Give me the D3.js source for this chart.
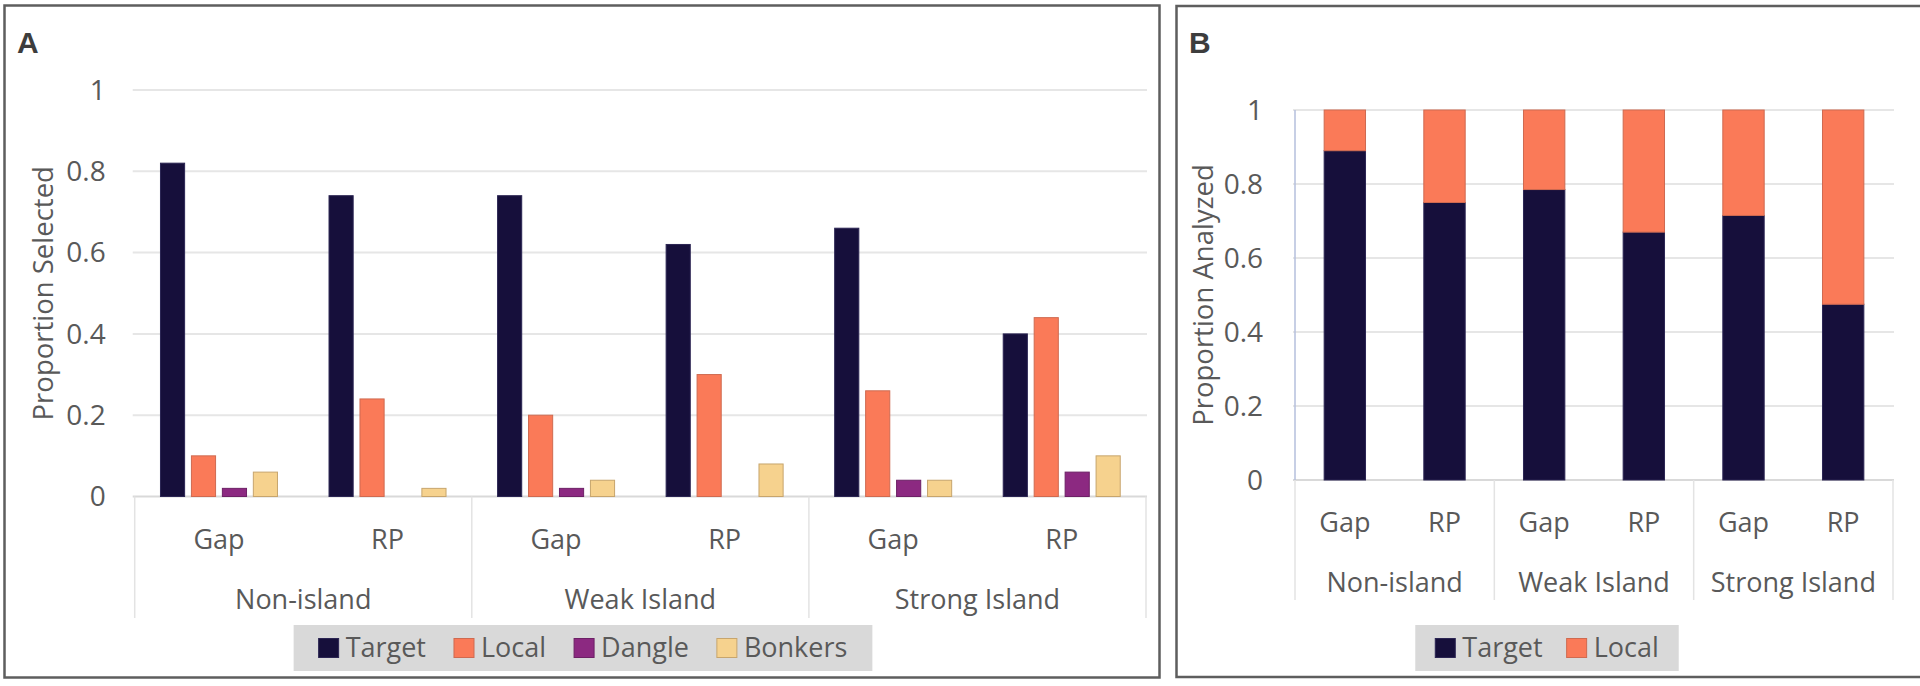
<!DOCTYPE html>
<html>
<head>
<meta charset="utf-8">
<script src="https://cdn.jsdelivr.net/npm/d3@7/dist/d3.min.js"></script>
<style>
  body { margin: 0; background: #fff; }
  svg { display: block; }
  text { font-family: "Open Sans", sans-serif; fill: #595959; }
</style>
</head>
<body>
<div id="chart"></div>
<script>
// categories
const groups = ["Non-island", "Weak Island", "Strong Island"]
const conds = ["Gap", "RP"]
const seriesA = ["Target", "Local", "Dangle", "Bonkers"]
const seriesB = ["Target", "Local"]
const yTicks = [0, 0.2, 0.4, 0.6, 0.8, 1]
const yTickLabels = ["0", "0.2", "0.4", "0.6", "0.8", "1"]

// panel A: proportion selected (order: Non-island Gap, RP, Weak Gap, RP, Strong Gap, RP)
const targetA = [0.82, 0.74, 0.74, 0.62, 0.66, 0.40]
const localA = [0.10, 0.24, 0.20, 0.30, 0.26, 0.44]
const dangleA = [0.02, 0.00, 0.02, 0.00, 0.04, 0.06]
const bonkersA = [0.06, 0.02, 0.04, 0.08, 0.04, 0.10]

// panel B: proportion analyzed (stacked)
const targetB = [0.89, 0.75, 0.785, 0.67, 0.715, 0.475]
const localB = [0.11, 0.25, 0.215, 0.33, 0.285, 0.525]

const fill = { Target: "#160f3b", Local: "#fa7a58", Dangle: "#8c2981", Bonkers: "#f6d28e" }
const edge = { Target: "#2b2553", Local: "#cf6a50", Dangle: "#6d2166", Bonkers: "#c7a56d" }

const svg = d3.select("#chart")
  .append("svg")
    .attr("width", 1920)
    .attr("height", 686)

const cells = groups.flatMap(g => conds.map(c => ({ g, c })))

// frames
svg.append("rect")
  .attr("x", 4.5).attr("y", 5.5).attr("width", 1155).attr("height", 672)
  .attr("fill", "none").attr("stroke", "#5e5e5e").attr("stroke-width", 2.5)
svg.append("rect")
  .attr("x", 1176.5).attr("y", 6).attr("width", 1738).attr("height", 671)
  .attr("fill", "none").attr("stroke", "#5e5e5e").attr("stroke-width", 2.5)

function panel(p) {
  const g = svg.append("g")
  const xg = d3.scaleBand().domain(groups).range([p.left, p.right])
  const xs = d3.scaleBand().domain(conds).range([0, xg.bandwidth()])
  const y = d3.scaleLinear().domain([0, 1]).range([p.bottom, p.top])

  // letter
  g.append("text")
    .attr("x", p.letterX).attr("y", 53)
    .style("font-family", "Liberation Sans, Arial, sans-serif")
    .style("font-weight", "bold").style("font-size", "30px").style("fill", "#3d3d3d")
    .text(p.letter)

  // gridlines
  g.append("g").selectAll("line")
    .data(yTicks)
    .join("line")
      .attr("x1", p.left - 2).attr("x2", p.right + 1)
      .attr("y1", d => y(d)).attr("y2", d => y(d))
      .attr("stroke", d => d === 0 ? "#d9d9d9" : "#e6e6e6")
      .attr("stroke-width", 2)

  if (p.axisLine) {
    g.append("line")
      .attr("x1", p.left).attr("x2", p.left)
      .attr("y1", y(1)).attr("y2", y(0))
      .attr("stroke", "#b4bfdc").attr("stroke-width", 1.5)
  }

  // y tick labels
  g.append("g").selectAll("text")
    .data(yTicks)
    .join("text")
      .attr("x", p.left - p.tickPad)
      .attr("y", d => y(d))
      .attr("dy", "0.35em")
      .attr("text-anchor", "end")
      .style("font-size", "28px")
      .text((d, i) => yTickLabels[i])

  // y title
  g.append("text")
    .attr("transform", `translate(${p.titleX},${(y(0) + y(1)) / 2}) rotate(-90)`)
    .attr("text-anchor", "middle")
    .attr("dy", "0.35em")
    .style("font-size", "27.5px")
    .text(p.yTitle)

  // category separators
  const seps = groups.map(d => xg(d)).concat([p.right])
  g.append("g").selectAll("line")
    .data(seps)
    .join("line")
      .attr("x1", d => d).attr("x2", d => d)
      .attr("y1", y(0)).attr("y2", p.sepBottom)
      .attr("stroke", "#e3e3e3").attr("stroke-width", 1.5)

  // category labels
  g.append("g").selectAll("text")
    .data(cells)
    .join("text")
      .attr("x", d => xg(d.g) + xs(d.c) + xs.bandwidth() / 2)
      .attr("y", p.condY)
      .attr("dy", "0.35em")
      .attr("text-anchor", "middle")
      .style("font-size", "27px")
      .text(d => d.c)
  g.append("g").selectAll("text")
    .data(groups)
    .join("text")
      .attr("x", d => xg(d) + xg.bandwidth() / 2)
      .attr("y", p.groupY)
      .attr("dy", "0.35em")
      .attr("text-anchor", "middle")
      .style("font-size", "27px")
      .text(d => d)

  // legend
  const lg = g.append("g")
  const box = lg.append("rect").attr("fill", "#d9d9d9")
  let cx = 0
  p.series.forEach(s => {
    lg.append("rect")
      .attr("x", cx).attr("y", 648 - 9.5).attr("width", 20).attr("height", 19)
      .attr("fill", fill[s]).attr("stroke", edge[s]).attr("stroke-width", 1)
    const t = lg.append("text")
      .attr("x", cx + 27).attr("y", 648).attr("dy", "0.35em")
      .style("font-size", "27px")
      .text(s)
    cx += 27 + t.node().getComputedTextLength() + p.legendGap
  })
  const contentW = cx - p.legendGap
  const bx = p.legendCenter - contentW / 2
  lg.selectAll("rect:not(:first-child), text").attr("transform", `translate(${bx},0)`)
  box.attr("x", bx - p.legendPad).attr("y", 625)
    .attr("width", contentW + 2 * p.legendPad).attr("height", 46)

  return { g, xg, xs, y }
}

// ---- panel A: clustered bars
const A = panel({
  letter: "A", letterX: 17,
  left: 134.7, right: 1146, top: 90, bottom: 496.5,
  tickPad: 29, titleX: 43, yTitle: "Proportion Selected",
  sepBottom: 618, condY: 540, groupY: 600,
  series: seriesA, legendCenter: 583, legendGap: 28, legendPad: 25
})
const valsA = { Target: targetA, Local: localA, Dangle: dangleA, Bonkers: bonkersA }
const clusterW = 117
const xb = d3.scaleBand().domain(seriesA).range([0, clusterW]).paddingInner(0.22)
const rowsA = cells.flatMap((d, i) => seriesA.map(s => ({ ...d, s, v: valsA[s][i] })))
A.g.append("g").selectAll("rect")
  .data(rowsA.filter(d => d.v > 0))
  .join("rect")
    .attr("x", d => A.xg(d.g) + A.xs(d.c) + (A.xs.bandwidth() - clusterW) / 2 + xb(d.s))
    .attr("width", xb.bandwidth())
    .attr("y", d => A.y(d.v))
    .attr("height", d => A.y(0) - A.y(d.v))
    .attr("fill", d => fill[d.s])
    .attr("stroke", d => edge[d.s])
    .attr("stroke-width", 1)

// ---- panel B: stacked bars
const B = panel({
  letter: "B", letterX: 1189,
  left: 1295, right: 1893, top: 110, bottom: 480,
  tickPad: 32, titleX: 1203, yTitle: "Proportion Analyzed", axisLine: true,
  sepBottom: 600, condY: 523, groupY: 583,
  series: seriesB, legendCenter: 1547, legendGap: 24, legendPad: 20
})
const tableB = cells.map((d, i) => ({ key: d.g + "|" + d.c, g: d.g, c: d.c, Target: targetB[i], Local: localB[i] }))
const stackB = d3.stack().keys(seriesB)(tableB)
const barW = B.xs.bandwidth() * 0.415
B.g.append("g").selectAll("g")
  .data(stackB)
  .join("g")
    .attr("fill", d => fill[d.key])
    .attr("stroke", d => edge[d.key])
  .selectAll("rect")
  .data(d => d)
  .join("rect")
    .attr("x", d => B.xg(d.data.g) + B.xs(d.data.c) + (B.xs.bandwidth() - barW) / 2)
    .attr("width", barW)
    .attr("y", d => B.y(d[1]))
    .attr("height", d => B.y(d[0]) - B.y(d[1]))
    .attr("stroke-width", 1)
</script>
</body>
</html>
